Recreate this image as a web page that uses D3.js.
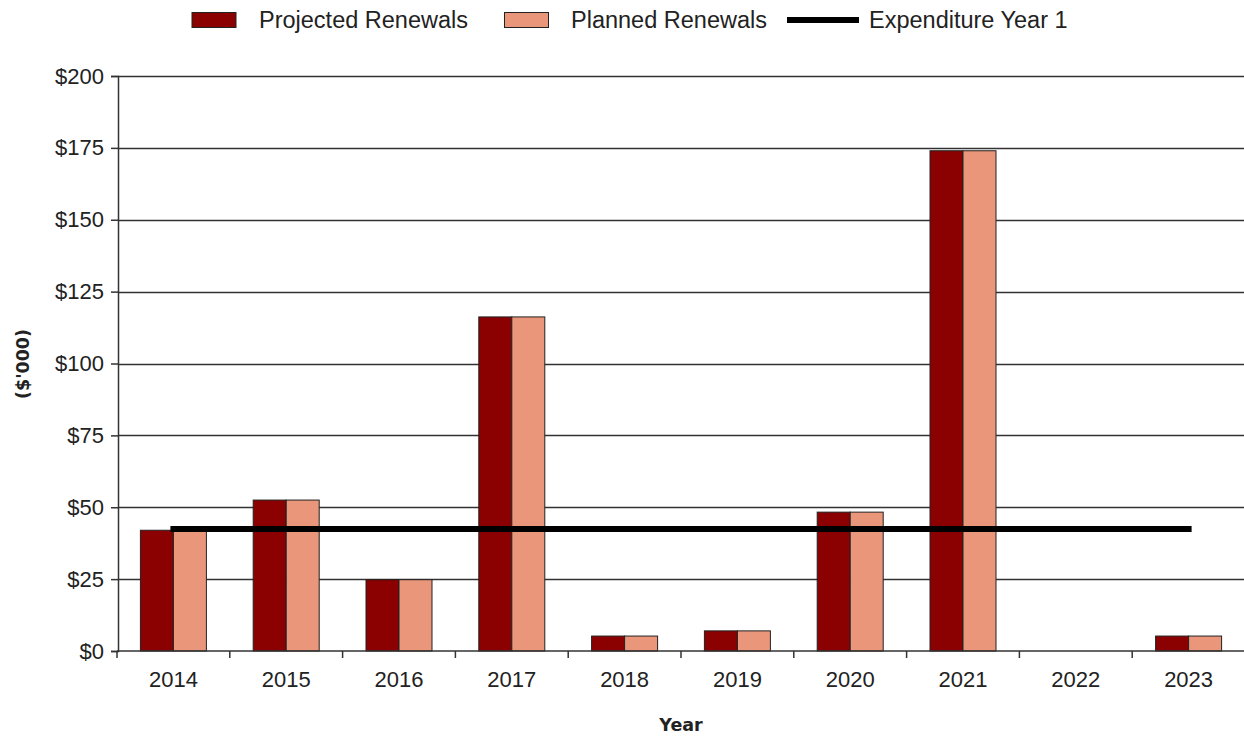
<!DOCTYPE html>
<html>
<head>
<meta charset="utf-8">
<script src="https://cdn.jsdelivr.net/npm/d3@7"></script>
<style>
  html, body { margin: 0; padding: 0; background: #fff; }
  svg { display: block; }
</style>
</head>
<body>
<script>
// Renewal expenditure by year ($'000)
const years = ["2014", "2015", "2016", "2017", "2018", "2019", "2020", "2021", "2022", "2023"];
const projectedRenewals = [42, 52.5, 24.8, 116.2, 5.2, 7, 48.3, 174, 0, 5.2];
const plannedRenewals   = [42, 52.5, 24.8, 116.2, 5.2, 7, 48.3, 174, 0, 5.2];
const expenditureYear1 = 42.4;
const yTicks = [0, 25, 50, 75, 100, 125, 150, 175, 200];
const seriesNames = ["Projected Renewals", "Planned Renewals", "Expenditure Year 1"];

const W = 1244, H = 738;
const svg = d3.select("body").append("svg").attr("width", W).attr("height", H);

const x = d3.scaleBand().domain(years).range([117, 1245]).paddingInner(0).paddingOuter(0);
const y = d3.scaleLinear().domain([0, 200]).range([651, 76]);

const font = "'Liberation Sans', Arial, sans-serif";
const titleFont = "'DejaVu Sans', Verdana, sans-serif";
const darkRed = "#8b0000";
const salmon = "#e9967a";
const axisColor = "#333";
const textColor = "#222";

// horizontal gridlines
svg.append("g").selectAll("line").data(yTicks.filter(d => d > 0)).join("line")
  .attr("x1", 118).attr("x2", W).attr("y1", d => Math.round(y(d)) + 0.5).attr("y2", d => Math.round(y(d)) + 0.5)
  .attr("stroke", axisColor).attr("stroke-width", 1.4);

// paired bars per year
const barW = 33;
const groups = svg.append("g").selectAll("g").data(years).join("g");
groups.append("rect")
  .attr("x", d => x(d) + x.bandwidth() / 2 - barW)
  .attr("y", (d, i) => y(projectedRenewals[i]))
  .attr("width", barW)
  .attr("height", (d, i) => y(0) - y(projectedRenewals[i]))
  .attr("fill", darkRed)
  .attr("stroke", (d, i) => projectedRenewals[i] > 0 ? "#222" : "none")
  .attr("stroke-width", 1);
groups.append("rect")
  .attr("x", d => x(d) + x.bandwidth() / 2)
  .attr("y", (d, i) => y(plannedRenewals[i]))
  .attr("width", barW)
  .attr("height", (d, i) => y(0) - y(plannedRenewals[i]))
  .attr("fill", salmon)
  .attr("stroke", (d, i) => plannedRenewals[i] > 0 ? "#222" : "none")
  .attr("stroke-width", 1);

// expenditure line across the years
const lineGen = d3.line().x(d => x(d) + x.bandwidth() / 2).y(() => y(expenditureYear1));
svg.append("path").datum([years[0], years[years.length - 1]])
  .attr("d", lineGen).attr("stroke", "#000").attr("stroke-width", 6)
  .attr("stroke-linecap", "square").attr("fill", "none");

// y axis
const yAxis = d3.axisLeft(y).tickValues(yTicks).tickSize(7).tickPadding(7).tickFormat(d => "$" + d);
const gy = svg.append("g").attr("transform", "translate(118,0)").call(yAxis);
gy.select(".domain").attr("stroke", axisColor).attr("stroke-width", 1.5);
gy.selectAll(".tick line").attr("stroke", axisColor).attr("stroke-width", 1.5);
gy.selectAll("text").attr("font-family", font).attr("font-size", 22).attr("fill", textColor);

// x axis
const gx = svg.append("g").attr("transform", "translate(0,651)")
  .call(d3.axisBottom(x).tickSize(0).tickPadding(20));
gx.select(".domain").remove();
gx.selectAll("text").attr("font-family", font).attr("font-size", 22).attr("fill", textColor);
svg.append("line").attr("x1", 117).attr("x2", W).attr("y1", 651).attr("y2", 651)
  .attr("stroke", axisColor).attr("stroke-width", 1.5);
svg.append("g").selectAll("line").data(years).join("line")
  .attr("x1", d => x(d)).attr("x2", d => x(d)).attr("y1", 651).attr("y2", 658)
  .attr("stroke", axisColor).attr("stroke-width", 1.5);

// axis titles
svg.append("text").attr("x", 681).attr("y", 731).attr("text-anchor", "middle")
  .attr("font-family", titleFont).attr("font-weight", "bold")
  .attr("font-size", 17.5).attr("fill", textColor).text("Year");
svg.append("text").attr("transform", "translate(29,364) rotate(-90)").attr("text-anchor", "middle")
  .attr("font-family", titleFont).attr("font-weight", "bold")
  .attr("font-size", 17.5).attr("fill", textColor).text("($'000)");

// legend
const legend = svg.append("g");
legend.append("rect").attr("x", 192).attr("y", 12.5).attr("width", 44).attr("height", 15)
  .attr("fill", darkRed).attr("stroke", "#222");
legend.append("text").attr("x", 259).attr("y", 28).text(seriesNames[0]);
legend.append("rect").attr("x", 504.5).attr("y", 12.5).attr("width", 44).attr("height", 15)
  .attr("fill", salmon).attr("stroke", "#222");
legend.append("text").attr("x", 571).attr("y", 28).text(seriesNames[1]);
legend.append("line").attr("x1", 787).attr("x2", 859).attr("y1", 20).attr("y2", 20)
  .attr("stroke", "#000").attr("stroke-width", 6);
legend.append("text").attr("x", 869).attr("y", 28).text(seriesNames[2]);
legend.selectAll("text").attr("font-family", font).attr("font-size", 23.5).attr("fill", textColor);
</script>
</body>
</html>
